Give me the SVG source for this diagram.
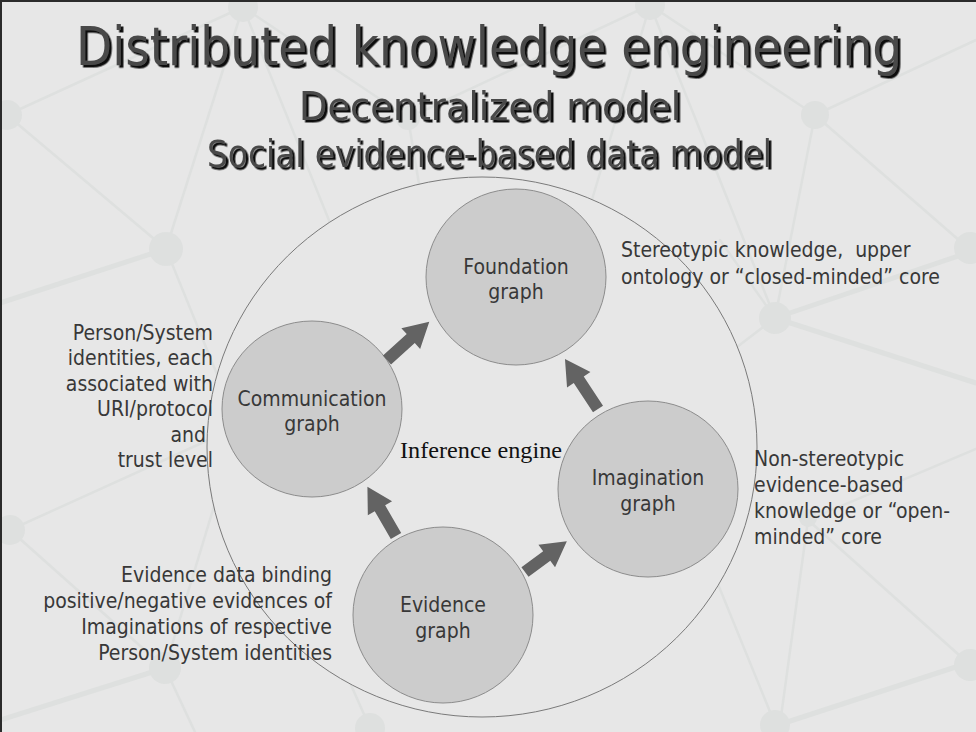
<svg xmlns="http://www.w3.org/2000/svg" width="976" height="732" viewBox="0 0 976 732">
<defs>
<style>
.net line{stroke:#dee0df;stroke-width:2.5;stroke-linecap:round}
.net .thick{stroke-width:5}
.net circle{fill:#dee0df}
.head{font-family:"DejaVu Sans Condensed","DejaVu Sans","Liberation Sans",sans-serif;text-anchor:middle;fill:#4a4a4a;filter:url(#shadow)}
.node ellipse{fill:#cccccc;stroke:#8c8c8c;stroke-width:1}
.lbl{font-family:"DejaVu Sans Condensed","Liberation Sans",sans-serif;font-size:21px;fill:#383838}
.c{text-anchor:middle}
.e{text-anchor:end}
.arrow{fill:#636363}
</style>
<filter id="shadow" x="-5%" y="-20%" width="110%" height="150%">
<feDropShadow dx="2.5" dy="2.5" stdDeviation="0.3" flood-color="#0a0a0a" flood-opacity="1"/>
</filter>
<polygon id="arr57" points="0,-6 32,-6 32,-14 57,0 32,14 32,6 0,6"/>
<polygon id="arr52" points="0,-6 27,-6 27,-14 52,0 27,14 27,6 0,6"/>
<polygon id="arr60" points="0,-6 35,-6 35,-14 60,0 35,14 35,6 0,6"/>
</defs>
<rect x="0" y="0" width="976" height="732" fill="#e7e7e7"/>
<g class="net">
<line x1="243" y1="7" x2="166" y2="249"/>
<line x1="7" y1="115" x2="166" y2="249"/>
<line x1="7" y1="115" x2="243" y2="7"/>
<line x1="166" y1="249" x2="0" y2="303" class="thick"/>
<line x1="166" y1="249" x2="260" y2="480"/>
<line x1="243" y1="7" x2="345" y2="260"/>
<line x1="243" y1="7" x2="408" y2="118"/>
<line x1="408" y1="118" x2="650" y2="5"/>
<line x1="408" y1="118" x2="420" y2="190"/>
<line x1="650" y1="5" x2="580" y2="240"/>
<line x1="650" y1="5" x2="775" y2="318"/>
<line x1="650" y1="5" x2="815" y2="115"/>
<line x1="815" y1="115" x2="976" y2="40"/>
<line x1="815" y1="115" x2="968" y2="248"/>
<line x1="815" y1="115" x2="775" y2="318"/>
<line x1="775" y1="318" x2="976" y2="250" class="thick"/>
<line x1="775" y1="318" x2="976" y2="383" class="thick"/>
<line x1="775" y1="318" x2="720" y2="360"/>
<line x1="775" y1="318" x2="720" y2="240"/>
<line x1="700" y1="540" x2="775" y2="724"/>
<line x1="808" y1="520" x2="780" y2="724"/>
<line x1="808" y1="520" x2="968" y2="663"/>
<line x1="976" y1="449" x2="808" y2="520"/>
<line x1="968" y1="663" x2="775" y2="726" class="thick"/>
<line x1="10" y1="530" x2="215" y2="437"/>
<line x1="10" y1="530" x2="165" y2="668"/>
<line x1="165" y1="668" x2="222" y2="480"/>
<line x1="165" y1="668" x2="0" y2="720" class="thick"/>
<line x1="165" y1="668" x2="195" y2="732"/>
<line x1="370" y1="728" x2="340" y2="660"/>
<circle cx="243" cy="7" r="15"/>
<circle cx="7" cy="115" r="15"/>
<circle cx="166" cy="249" r="17"/>
<circle cx="408" cy="118" r="12"/>
<circle cx="650" cy="5" r="15"/>
<circle cx="815" cy="115" r="14"/>
<circle cx="775" cy="318" r="16"/>
<circle cx="970" cy="248" r="16"/>
<circle cx="10" cy="530" r="15"/>
<circle cx="165" cy="668" r="16"/>
<circle cx="370" cy="728" r="15"/>
<circle cx="775" cy="725" r="15"/>
<circle cx="970" cy="665" r="16"/>
<circle cx="808" cy="518" r="9"/>
</g>
<rect x="0" y="0" width="976" height="2" fill="#2b2b2b"/>
<rect x="0" y="0" width="2" height="732" fill="#2b2b2b"/>
<g id="titles" class="head">
<text x="489" y="65" font-size="53" textLength="826" lengthAdjust="spacingAndGlyphs">Distributed knowledge engineering</text>
<text x="490" y="120" font-size="39" textLength="382" lengthAdjust="spacingAndGlyphs">Decentralized model</text>
<text x="489.5" y="167" font-size="37" textLength="565" lengthAdjust="spacingAndGlyphs">Social evidence-based data model</text>
</g>
<g id="inference-engine">
<ellipse cx="482" cy="447" rx="275" ry="270" fill="#e7e7e7" stroke="#7a7a7a" stroke-width="1"/>
<text x="400" y="457.5" font-family="'Liberation Serif',serif" font-size="23.5" fill="#111" textLength="162" lengthAdjust="spacingAndGlyphs">Inference engine</text>
</g>
<g id="foundation" class="node">
<ellipse cx="516" cy="277" rx="90" ry="88"/>
<text class="lbl c" x="516" y="274">Foundation</text>
<text class="lbl c" x="516" y="299">graph</text>
</g>
<g id="communication" class="node">
<ellipse cx="312" cy="409" rx="90" ry="88"/>
<text class="lbl c" x="312" y="406">Communication</text>
<text class="lbl c" x="312" y="431">graph</text>
</g>
<g id="imagination" class="node">
<ellipse cx="648" cy="489" rx="90" ry="88"/>
<text class="lbl c" x="648" y="485">Imagination</text>
<text class="lbl c" x="648" y="511">graph</text>
</g>
<g id="evidence" class="node">
<ellipse cx="443" cy="615" rx="90" ry="88"/>
<text class="lbl c" x="443" y="612">Evidence</text>
<text class="lbl c" x="443" y="638">graph</text>
</g>
<g id="connectors" class="arrow">
<use href="#arr57" transform="translate(387,360) rotate(-42.1)"/>
<use href="#arr60" transform="translate(598,409) rotate(-123.4)"/>
<use href="#arr57" transform="translate(396,536) rotate(-120.1)"/>
<use href="#arr52" transform="translate(525,572) rotate(-36.4)"/>
</g>
<g id="note-foundation">
<text class="lbl" x="621" y="257" style="white-space:pre">Stereotypic knowledge,  upper</text>
<text class="lbl" x="621" y="284">ontology or “closed-minded” core</text>
</g>
<g id="note-communication">
<text class="lbl e" x="213" y="340">Person/System</text>
<text class="lbl e" x="213" y="365">identities, each</text>
<text class="lbl e" x="213" y="391">associated with</text>
<text class="lbl e" x="213" y="416">URI/protocol</text>
<text class="lbl e" x="206" y="442">and</text>
<text class="lbl e" x="213" y="467">trust level</text>
</g>
<g id="note-imagination">
<text class="lbl" x="754" y="466">Non-stereotypic</text>
<text class="lbl" x="754" y="492">evidence-based</text>
<text class="lbl" x="754" y="518">knowledge or “open-</text>
<text class="lbl" x="754" y="544">minded” core</text>
</g>
<g id="note-evidence">
<text class="lbl e" x="332" y="582">Evidence data binding</text>
<text class="lbl e" x="332" y="608">positive/negative evidences of</text>
<text class="lbl e" x="332" y="634">Imaginations of respective</text>
<text class="lbl e" x="332" y="660">Person/System identities</text>
</g>
</svg>
